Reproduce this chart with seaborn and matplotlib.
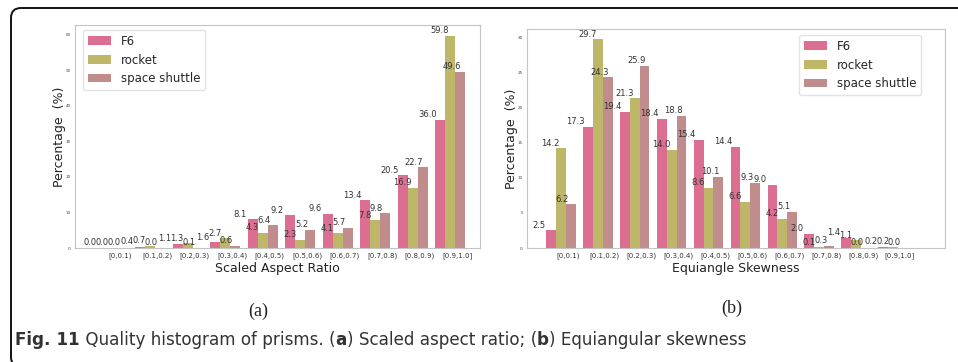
import numpy as np
import pandas as pd
import matplotlib
matplotlib.use("Agg")
import matplotlib.pyplot as plt
import seaborn as sns
from matplotlib.patches import FancyBboxPatch

# === data ===
bins = ['[0,0.1)', '[0.1,0.2)', '[0.2,0.3)', '[0.3,0.4)', '[0.4,0.5)',
        '[0.5,0.6)', '[0.6,0.7)', '[0.7,0.8)', '[0.8,0.9)', '[0.9,1.0]']
series = ['F6', 'rocket', 'space shuttle']

f6_aspect = [0.0, 0.4, 1.1, 1.6, 8.1, 9.2, 9.6, 13.4, 20.5, 36.0]
rocket_aspect = [0.0, 0.7, 1.3, 2.7, 4.3, 2.3, 4.1, 7.8, 16.9, 59.8]
shuttle_aspect = [0.0, 0.0, 0.1, 0.6, 6.4, 5.2, 5.7, 9.8, 22.7, 49.6]

f6_skew = [2.5, 17.3, 19.4, 18.4, 15.4, 14.4, 9.0, 2.0, 1.4, 0.2]
rocket_skew = [14.2, 29.7, 21.3, 14.0, 8.6, 6.6, 4.2, 0.1, 1.1, 0.2]
shuttle_skew = [6.2, 24.3, 25.9, 18.8, 10.1, 9.3, 5.1, 0.3, 0.0, 0.0]

colors = ['#dc6e91', '#beb669', '#c08c8c']

sns.set_theme(style='white')
plt.rcParams['font.family'] = ['DejaVu Sans']

fig = plt.figure(figsize=(9.58, 3.62), dpi=100)
ax1 = fig.add_axes([0.0783, 0.3149, 0.4228, 0.616])
ax2 = fig.add_axes([0.5501, 0.3149, 0.4363, 0.605])


def draw(ax, f6, rocket, shuttle, xlabel, xlim, loc, anchor):
    df = pd.DataFrame({
        'bin': bins * 3,
        'value': f6 + rocket + shuttle,
        'model': np.repeat(series, len(bins)),
    })
    sns.barplot(data=df, x='bin', y='value', hue='model', order=bins,
                hue_order=series, palette=colors, saturation=1, width=0.8,
                linewidth=0, ax=ax)

    # value labels, sitting up-left of each bar
    shift = [0.75, 0.55, 0.35]
    for k, cont in enumerate(ax.containers):
        for bar in cont:
            h = bar.get_height()
            ax.annotate(f'{h:.1f}', (bar.get_x() - shift[k] * bar.get_width(), h),
                        xytext=(0, 0.5), textcoords='offset points',
                        ha='center', va='bottom', fontsize=6, color='#333333')

    ax.set_xlim(*xlim)
    ax.set_xticks(np.arange(len(bins)) + 0.19)
    ax.set_xticklabels(bins, fontsize=5, color='#333333')
    ax.tick_params(axis='x', length=2, width=0.5, color='#888888', pad=1)
    ax.tick_params(axis='y', length=2, width=0.5, color='#888888', pad=1,
                   labelsize=3, labelcolor='#444444')
    for s in ax.spines.values():
        s.set_color('#c4c4c4')
        s.set_linewidth(0.8)

    ax.set_xlabel(xlabel, fontsize=9, labelpad=2, color='#222222')
    ax.set_ylabel('Percentage  (%)', fontsize=9, labelpad=0, color='#222222')

    handles, labels = ax.get_legend_handles_labels()
    ax.legend(handles, labels, loc=loc, bbox_to_anchor=anchor, borderaxespad=0,
              fontsize=8.5, frameon=True, edgecolor='#dddddd', fancybox=True,
              handlelength=2.0)


draw(ax1, f6_aspect, rocket_aspect, shuttle_aspect, 'Scaled Aspect Ratio',
     (-1.0, 9.8), 'upper left', (0.02, 0.978))
draw(ax2, f6_skew, rocket_skew, shuttle_skew, 'Equiangle Skewness',
     (-0.92, 10.41), 'upper right', (0.943, 0.973))

# panel letters
fig.text(0.2693, 0.141, '(a)', ha='center', va='center', fontsize=13,
         family=['Liberation Serif', 'DejaVu Serif'], color='#222222')
fig.text(0.764, 0.149, '(b)', ha='center', va='center', fontsize=13,
         family=['Liberation Serif', 'DejaVu Serif'], color='#222222')

# caption with bold pieces
pieces = [('Fig. 11', 'bold'), (' Quality histogram of prisms. (', 'normal'),
          ('a', 'bold'), (') Scaled aspect ratio; (', 'normal'),
          ('b', 'bold'), (') Equiangular skewness', 'normal')]
renderer = fig.canvas.get_renderer()
x = 15 / 958
for txt, wt in pieces:
    t = fig.text(x, 0.047, txt, ha='left', va='baseline', fontsize=12.1,
                 weight=wt, family=['Liberation Sans Narrow', 'DejaVu Sans'],
                 color='#333333')
    bb = t.get_window_extent(renderer)
    x += bb.width / fig.bbox.width

# rounded frame around the figure (right and bottom run off the page)
frame = FancyBboxPatch((0.11, -0.05), 9.7, 3.54 + 0.05,
                       boxstyle='round,pad=0,rounding_size=0.1',
                       transform=fig.dpi_scale_trans, fill=False,
                       edgecolor='#111111', linewidth=1.4)
fig.add_artist(frame)

fig.savefig('out.png', dpi=100)
